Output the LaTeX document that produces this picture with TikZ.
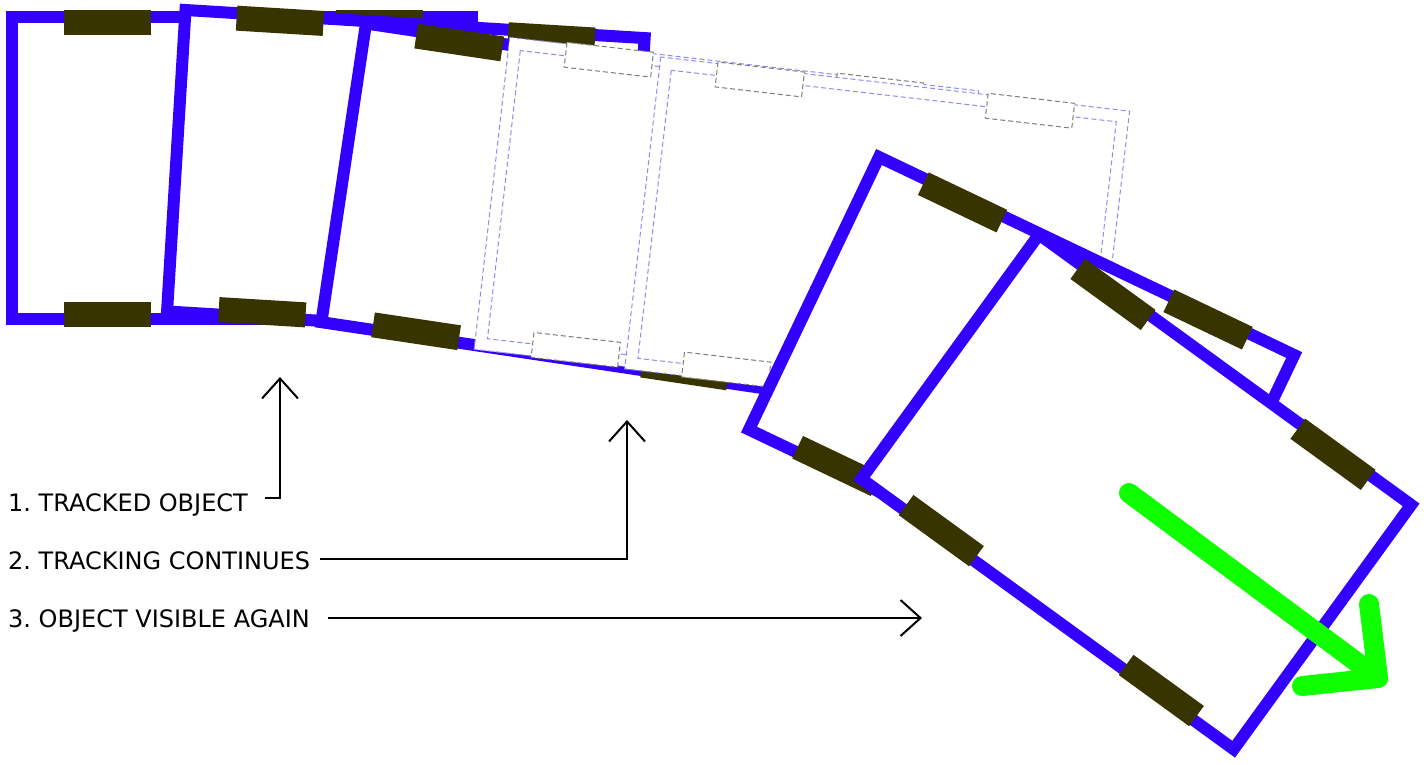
\documentclass[tikz,border=0pt]{standalone}
\usepackage{fontspec}
\setmainfont{DejaVu Sans}
\usetikzlibrary{arrows.meta}
\usepackage{xcolor}
\frenchspacing

\definecolor{carblue}{RGB}{51,0,255}
\definecolor{tyre}{RGB}{56,52,0}
\definecolor{ghostblue}{RGB}{140,140,240}
\definecolor{ghostgrey}{RGB}{125,125,115}
\definecolor{arrowgreen}{RGB}{16,255,0}

% #1,#2 rear corner, #3 heading in degrees (clockwise)
\newcommand\solidcar[3]{%
  \begin{scope}[shift={(#1,#2)},rotate=-#3]
    \draw[carbody] (0,0) rectangle (460,302);
    \foreach \u in {51.5,323.5} \foreach \v in {-7.5,284.5}
      \fill[tyre] (\u,\v) rectangle ++(87,25);
  \end{scope}}
\newcommand\ghostcar[3]{%
  \begin{scope}[shift={(#1,#2)},rotate=-#3]
    \fill[white] (-6,-6) rectangle (466,308);
    \draw[ghostline] (-6,-6) rectangle (466,308);
    \draw[ghostline] (6,6) rectangle (454,296);
    \foreach \u in {51.5,323.5} \foreach \v in {-7.5,284.5}
      \filldraw[ghostwheel] (\u,\v) rectangle ++(87,25);
  \end{scope}}

\begin{document}
\begin{tikzpicture}[x=1pt,y=-1pt,line join=miter,
  carbody/.style={draw=carblue,fill=white,line width=12pt},
  ghostline/.style={draw=ghostblue,line width=1pt,dash pattern=on 5pt off 3pt},
  ghostwheel/.style={draw=ghostgrey,fill=white,line width=1pt,dash pattern=on 5pt off 3pt},
  tag/.style={anchor=base west,inner sep=0pt,text height=18pt,text depth=0pt,font=\fontsize{24}{28}\selectfont},
  lead/.style={line width=2.8pt,-{Straight Barb[length=20pt,width=36pt,line width=2pt]}},
  heading/.style={draw=arrowgreen,line width=20pt,line cap=round,line join=round}]
\useasboundingbox (0,0) rectangle (1426,764);

\solidcar{12}{17}{0}
\solidcar{185.5}{10}{3.5}
\solidcar{366}{23.5}{8.5}
\ghostcar{515}{44}{6.5}
\ghostcar{666}{63.6}{6.6}
\solidcar{879}{157}{25.5}
\solidcar{1039}{234.5}{36}

\coordinate (tail) at (1129,493);
\coordinate (nose) at (1378,678);
\coordinate (barbl) at (1369,604);
\coordinate (barbr) at (1302,686);
\draw[heading] (tail) -- (nose);
\draw[heading] (barbl) -- (nose) -- (barbr);

\node[tag] (tracked) at (8,511) {1. TRACKED OBJECT};
\node[tag] (continues) at (8,569) {2. TRACKING CONTINUES};
\node[tag] (visible) at (8,627) {3. OBJECT VISIBLE AGAIN};

\coordinate (tip1) at (280,377);
\coordinate (tip2) at (627,420);
\coordinate (tip3) at (922,617);
\draw[lead] ([xshift=17pt,yshift=4pt]tracked.east) -| (tip1);
\draw[lead] ([xshift=10pt,yshift=1pt]continues.east) -| (tip2);
\draw[lead] ([xshift=18pt]visible.east) -- (visible.east -| tip3);
\end{tikzpicture}
\end{document}
